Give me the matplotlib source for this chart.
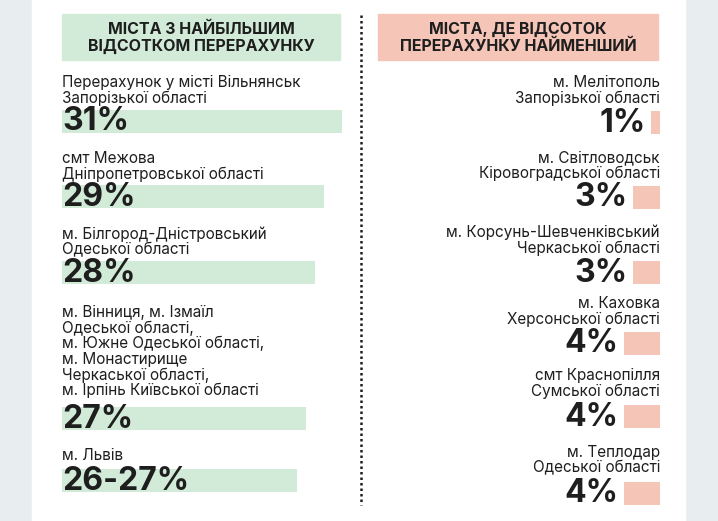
import matplotlib.pyplot as plt
from matplotlib.patches import Rectangle

plt.rcParams['font.family'] = ['Inter', 'DejaVu Sans']

# дані
left_title = 'МІСТА З НАЙБІЛЬШИМ\nВІДСОТКОМ ПЕРЕРАХУНКУ'
left_labels = [
    'Перерахунок у місті Вільнянськ\nЗапорізької області',
    'смт Межова\nДніпропетровської області',
    'м. Білгород-Дністровський\nОдеської області',
    'м. Вінниця, м. Ізмаїл\nОдеської області,\nм. Южне Одеської області,\nм. Монастирище\nЧеркаської області,\nм. Ірпінь Київської області',
    'м. Львів',
]
left_values = [31, 29, 28, 27, 26]
left_texts = ['31%', '29%', '28%', '27%', '26-27%']

right_title = 'МІСТА, ДЕ ВІДСОТОК\nПЕРЕРАХУНКУ НАЙМЕНШИЙ'
right_labels = [
    'м. Мелітополь\nЗапорізької області',
    'м. Світловодськ\nКіровоградської області',
    'м. Корсунь-Шевченківський\nЧеркаської області',
    'м. Каховка\nХерсонської області',
    'смт Краснопілля\nСумської області',
    'м. Теплодар\nОдеської області',
]
right_values = [1, 3, 3, 4, 4, 4]
right_texts = ['1%', '3%', '3%', '4%', '4%', '4%']

# розмітка (пікселі)
W, H = 718, 521
left_label_y = [75, 151, 226, 305, 448]
left_bar_y = [121, 196, 272, 418, 480]
right_label_y = [75, 150, 225, 296, 368, 445]
right_bar_y = [122, 197, 272, 343, 416, 493]

green = '#d2ebd8'
pink = '#f5c5b7'
dark = '#1e1e1e'
label_fs = 11
big_fs = 23

fig = plt.figure(figsize=(W / 100, H / 100), dpi=100)
fig.patch.set_facecolor('#e8eef0')

bg = fig.add_axes([0, 0, 1, 1])
bg.set_xlim(0, W)
bg.set_ylim(H, 0)
bg.axis('off')
bg.add_patch(Rectangle((32, 0), 653, H, color='white', zorder=0))
bg.add_patch(Rectangle((62, 14), 278, 46, color=green, zorder=1))
bg.add_patch(Rectangle((378, 14), 280, 46, color=pink, zorder=1))
bg.plot([361, 361], [15, 505], color=dark, lw=1.8, linestyle=(0, (1, 1.2)))
bg.text(201, 38, left_title, ha='center', va='center', fontsize=11.5,
        fontweight='bold', color=dark, linespacing=1.1, zorder=2)
bg.text(518, 38, right_title, ha='center', va='center', fontsize=11.5,
        fontweight='bold', color=dark, linespacing=1.1, zorder=2)

# ліва частина
axl = fig.add_axes([62 / W, 0, 280 / W, 1])
axl.set_xlim(0, 31)
axl.set_ylim(H, 0)
axl.axis('off')
axl.patch.set_alpha(0)
axl.barh(left_bar_y, left_values, height=23, color=green)
for lab, ly, t, by in zip(left_labels, left_label_y, left_texts, left_bar_y):
    axl.text(0, ly, lab, ha='left', va='top', fontsize=label_fs,
             color=dark, linespacing=1.03)
    axl.text(0, by + 1, t, ha='left', va='center', fontsize=big_fs,
             fontweight='bold', color=dark)

# права частина
axr = fig.add_axes([380 / W, 0, 280 / W, 1])
axr.set_xlim(31, 0)
axr.set_ylim(H, 0)
axr.axis('off')
axr.patch.set_alpha(0)
axr.barh(right_bar_y, right_values, height=23, color=pink)
for lab, ly, t, v, by in zip(right_labels, right_label_y, right_texts,
                             right_values, right_bar_y):
    axr.text(0, ly, lab, ha='right', va='top', fontsize=label_fs,
             color=dark, linespacing=1.03)
    axr.annotate(t, (v, by + 1), xytext=(-5, 0), textcoords='offset pixels',
                 ha='right', va='center', fontsize=big_fs,
                 fontweight='bold', color=dark)

fig.savefig('out.png', dpi=100)
